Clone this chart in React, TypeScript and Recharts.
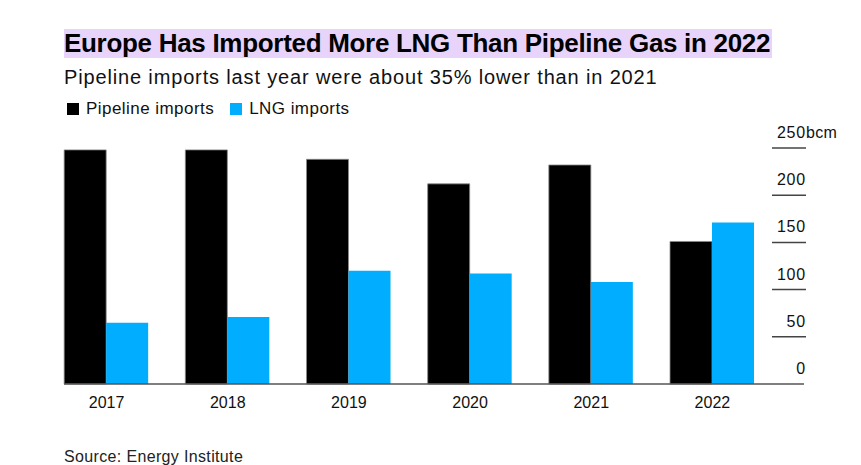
import { BarChart, Bar, XAxis, YAxis } from 'recharts';

const years = ['2017', '2018', '2019', '2020', '2021', '2022'];
const pipelineImports = [248, 248, 238, 212, 232, 151];
const lngImports = [65, 71, 120, 117, 108, 171];
const valueTicks = [0, 50, 100, 150, 200, 250];
const unitLabel = 'bcm';
const seriesNames = ['Pipeline imports', 'LNG imports'];

const PIPELINE_COLOR = '#000000';
const LNG_COLOR = '#00adff';
const FONT = '"Liberation Sans", Arial, sans-serif';

// where the baseline starts (left edge of the first bar)
const BASELINE_START = 64;

const data = years.map((year, i) => ({
  year,
  pipeline: pipelineImports[i],
  lng: lngImports[i],
}));

function ValueTick(props: any) {
  const { x, y, payload } = props;
  const isTop = payload.value === valueTicks[valueTicks.length - 1];
  const isZero = payload.value === 0;
  return (
    <g>
      {isZero ? (
        <line x1={BASELINE_START} x2={x + 31} y1={y} y2={y} stroke="#555" strokeWidth={1.5} />
      ) : (
        <line x1={x - 1} x2={x + 33} y1={y} y2={y} stroke="#444" strokeWidth={1.5} />
      )}
      <text
        x={x + 33}
        y={y - 10}
        textAnchor="end"
        fontSize={16}
        letterSpacing={0.8}
        fill="#111"
        fontFamily={FONT}
      >
        {payload.value}
      </text>
      {isTop && (
        <text x={x + 33} y={y - 10} textAnchor="start" fontSize={16} letterSpacing={0.3} fill="#111" fontFamily={FONT}>
          {unitLabel}
        </text>
      )}
    </g>
  );
}

function YearTick(props: any) {
  const { x, y, payload } = props;
  return (
    <text x={x} y={y + 24} textAnchor="middle" fontSize={16} fill="#111" fontFamily={FONT}>
      {payload.value}
    </text>
  );
}

export default function App() {
  return (
    <div
      style={{
        position: 'absolute',
        left: 0,
        top: 0,
        width: 861,
        height: 465,
        background: '#fff',
        fontFamily: FONT,
        overflow: 'hidden',
      }}
    >
      <div style={{ position: 'absolute', left: 64, top: 29, height: 29 }}>
        <span
          style={{
            display: 'inline-block',
            background: '#e8d4fa',
            fontWeight: 700,
            fontSize: 26,
            lineHeight: '29px',
            letterSpacing: -0.3,
            color: '#000',
            paddingRight: 2,
            whiteSpace: 'nowrap',
          }}
        >
          Europe Has Imported More LNG Than Pipeline Gas in 2022
        </span>
      </div>
      <div
        style={{
          position: 'absolute',
          left: 64,
          top: 65,
          fontSize: 20,
          lineHeight: '24px',
          letterSpacing: 0.85,
          color: '#111',
          whiteSpace: 'nowrap',
        }}
      >
        Pipeline imports last year were about 35% lower than in 2021
      </div>
      <div
        style={{
          position: 'absolute',
          left: 67,
          top: 98,
          display: 'flex',
          alignItems: 'center',
          fontSize: 17,
          lineHeight: '21px',
          letterSpacing: 0.45,
          color: '#111',
          whiteSpace: 'nowrap',
        }}
      >
        <span style={{ width: 12, height: 12, background: PIPELINE_COLOR, marginRight: 7 }} />
        <span style={{ marginRight: 16 }}>{seriesNames[0]}</span>
        <span style={{ width: 12, height: 12, background: LNG_COLOR, marginRight: 7 }} />
        <span>{seriesNames[1]}</span>
      </div>

      <div style={{ position: 'absolute', left: 0, top: 0 }}>
        <BarChart
          width={861}
          height={465}
          data={data}
          margin={{ top: 148, right: 0, bottom: 51, left: 46 }}
          barCategoryGap="15%"
          barGap={0}
        >
          <XAxis
            dataKey="year"
            axisLine={false}
            tickLine={false}
            tickSize={0}
            tickMargin={0}
            interval={0}
            height={30}
            tick={<YearTick />}
          />
          <YAxis
            orientation="right"
            width={88}
            domain={[0, 250]}
            ticks={valueTicks}
            axisLine={false}
            tickLine={false}
            tickSize={0}
            tickMargin={0}
            interval={0}
            tick={<ValueTick />}
          />
          <Bar
            dataKey="pipeline"
            name={seriesNames[0]}
            fill={PIPELINE_COLOR}
            stroke="#8a8a8a"
            strokeWidth={0.8}
            isAnimationActive={false}
          />
          <Bar
            dataKey="lng"
            name={seriesNames[1]}
            fill={LNG_COLOR}
            isAnimationActive={false}
          />
        </BarChart>
      </div>

      <div
        style={{
          position: 'absolute',
          left: 64,
          top: 448,
          fontSize: 16,
          lineHeight: '18px',
          letterSpacing: 0.35,
          color: '#222',
          whiteSpace: 'nowrap',
        }}
      >
        Source: Energy Institute
      </div>
    </div>
  );
}
